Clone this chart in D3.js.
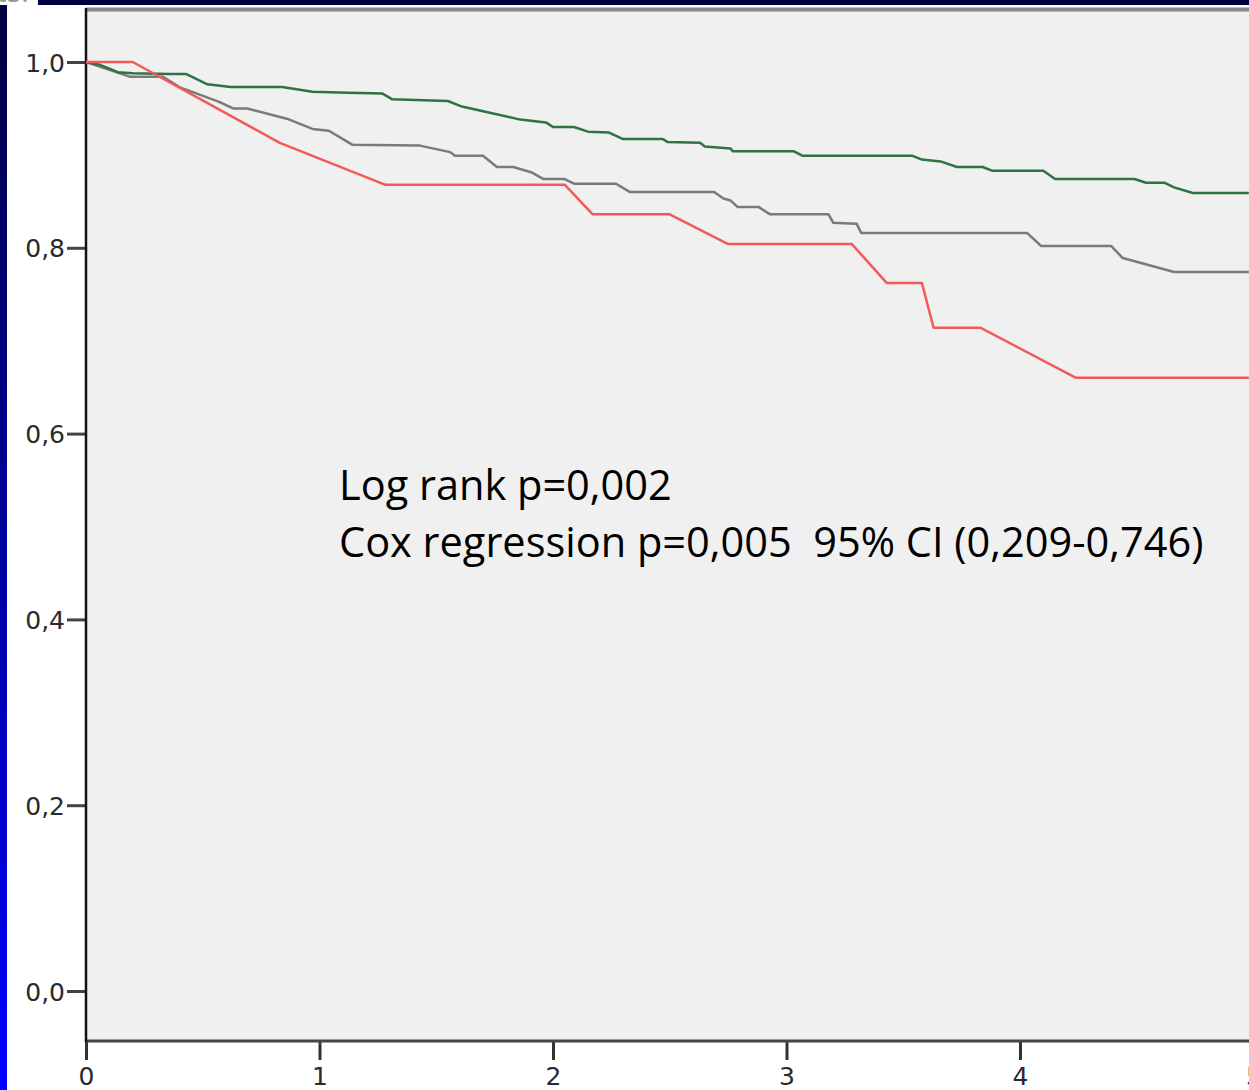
<!DOCTYPE html>
<html>
<head>
<meta charset="utf-8">
<script src="https://d3js.org/d3.v7.min.js"></script>
<style>
  body { margin: 0; background: #fff; overflow: hidden; }
  svg { display: block; }
</style>
</head>
<body>
<script>
// survival data: time (years) and cumulative survival
var redTime = [0, 0.20, 0.83, 1.28, 2.05, 2.17, 2.50, 2.75, 3.28, 3.43, 3.58, 3.63, 3.83, 4.24, 4.98];
var redSurv = [1.0, 1.0, 0.913, 0.868, 0.868, 0.836, 0.836, 0.804, 0.804, 0.762, 0.762, 0.714, 0.714, 0.660, 0.660];

var grayTime = [0, 0.19, 0.33, 0.40, 0.57, 0.63, 0.69, 0.86, 0.97, 1.04, 1.14, 1.43, 1.56, 1.58, 1.70, 1.76, 1.83, 1.91, 1.96, 2.05, 2.09, 2.27, 2.33, 2.69, 2.73, 2.76, 2.79, 2.88, 2.93, 3.18, 3.20, 3.30, 3.32, 4.03, 4.09, 4.39, 4.44, 4.66, 4.98];
var graySurv = [1.0, 0.984, 0.984, 0.973, 0.957, 0.950, 0.950, 0.939, 0.928, 0.926, 0.911, 0.910, 0.903, 0.899, 0.899, 0.887, 0.887, 0.881, 0.874, 0.874, 0.869, 0.869, 0.860, 0.860, 0.853, 0.851, 0.844, 0.844, 0.836, 0.836, 0.827, 0.826, 0.816, 0.816, 0.802, 0.802, 0.789, 0.774, 0.774];

var greenTime = [0, 0.06, 0.137, 0.20, 0.36, 0.43, 0.52, 0.62, 0.84, 0.97, 1.12, 1.27, 1.31, 1.55, 1.61, 1.72, 1.86, 1.97, 2.00, 2.09, 2.15, 2.24, 2.30, 2.47, 2.49, 2.63, 2.65, 2.76, 2.77, 3.03, 3.07, 3.54, 3.58, 3.66, 3.73, 3.84, 3.88, 4.10, 4.15, 4.49, 4.54, 4.62, 4.66, 4.74, 4.98];
var greenSurv = [1.0, 0.997, 0.989, 0.988, 0.987, 0.987, 0.976, 0.973, 0.973, 0.968, 0.967, 0.966, 0.960, 0.958, 0.952, 0.946, 0.938, 0.935, 0.930, 0.930, 0.925, 0.924, 0.917, 0.917, 0.914, 0.913, 0.909, 0.907, 0.904, 0.904, 0.899, 0.899, 0.895, 0.893, 0.887, 0.887, 0.883, 0.883, 0.874, 0.874, 0.870, 0.870, 0.865, 0.859, 0.859];

var yTicks = [0, 0.2, 0.4, 0.6, 0.8, 1.0];
var xTicks = [0, 1, 2, 3, 4, 5];
var notes = ["Log rank p=0,002", "Cox regression p=0,005  95% CI (0,209-0,746)"];

var width = 1249, height = 1090;

var svg = d3.select("body").append("svg")
	.attr("width", width)
	.attr("height", height);

// slide frame: navy top strip and blue gradient on the left
var defs = svg.append("defs");
var grad = defs.append("linearGradient")
	.attr("id", "sideGrad")
	.attr("x1", 0).attr("y1", 0).attr("x2", 0).attr("y2", 1);
grad.append("stop").attr("offset", "0%").attr("stop-color", "#000040");
grad.append("stop").attr("offset", "100%").attr("stop-color", "#0000ff");

svg.append("rect").attr("x", 38).attr("y", 0).attr("width", width - 38).attr("height", 5).attr("fill", "#000040");
svg.append("rect").attr("x", 0).attr("y", 5).attr("width", 7).attr("height", height - 5).attr("fill", "url(#sideGrad)");
svg.append("text")
	.attr("x", -4).attr("y", 2)
	.attr("font-family", "Open Sans, sans-serif")
	.attr("font-size", 30)
	.attr("fill", "#999")
	.text("ts:");

var x = d3.scaleLinear().domain([0, 5]).range([86, 1253.5]);
var y = d3.scaleLinear().domain([0, 1]).range([991, 62]);

// plot background
svg.append("rect")
	.attr("x", 86).attr("y", 10)
	.attr("width", width - 86 + 5).attr("height", 1041 - 10)
	.attr("fill", "#f0f0f0");
svg.append("line")
	.attr("x1", 86).attr("x2", width)
	.attr("y1", 9.5).attr("y2", 9.5)
	.attr("stroke", "#888").attr("stroke-width", 4);

var yAxis = svg.append("g")
	.attr("transform", "translate(86,0)")
	.call(d3.axisLeft(y).tickValues(yTicks).tickSize(19).tickPadding(2)
		.tickFormat(function(d) { return d3.format(".1f")(d).replace(".", ","); }));
yAxis.select(".domain").remove();
yAxis.selectAll(".tick line").attr("stroke", "#444").attr("stroke-width", 3);
yAxis.selectAll(".tick text")
	.attr("font-family", "DejaVu Sans, sans-serif")
	.attr("font-size", 25)
	.attr("fill", "#2a2a2a")
	.attr("dy", "0.36em");

var xAxis = svg.append("g")
	.attr("transform", "translate(0,1041)")
	.call(d3.axisBottom(x).tickValues(xTicks).tickSize(19).tickPadding(7)
		.tickFormat(d3.format("d")));
xAxis.select(".domain").remove();
xAxis.selectAll(".tick line").attr("stroke", "#333").attr("stroke-width", 3);
xAxis.selectAll(".tick text")
	.attr("font-family", "DejaVu Sans, sans-serif")
	.attr("font-size", 25)
	.attr("fill", "#2a2a2a");

svg.append("line")
	.attr("x1", 86).attr("x2", width)
	.attr("y1", 1041).attr("y2", 1041)
	.attr("stroke", "#444").attr("stroke-width", 3);
svg.append("line")
	.attr("x1", 86).attr("x2", 86)
	.attr("y1", 8).attr("y2", 1042)
	.attr("stroke", "#111").attr("stroke-width", 2.5);

// survival curves
var line = d3.line()
	.x(function(d) { return x(d[0]); })
	.y(function(d) { return y(d[1]); });

function draw(times, surv, color) {
	svg.append("path")
		.datum(d3.zip(times, surv))
		.attr("fill", "none")
		.attr("stroke", color)
		.attr("stroke-width", 2.5)
		.attr("stroke-linejoin", "round")
		.attr("d", line);
}
draw(grayTime, graySurv, "#7a7a7a");
draw(greenTime, greenSurv, "#2e7346");
draw(redTime, redSurv, "#f25a5a");

svg.append("g").selectAll("text")
	.data(notes)
	.join("text")
	.attr("x", 339)
	.attr("y", function(d, i) { return 500 + i * 57; })
	.attr("font-family", "Open Sans, sans-serif")
	.attr("font-size", 41.5)
	.attr("fill", "#000")
	.style("white-space", "pre")
	.text(function(d) { return d; });
</script>
</body>
</html>
